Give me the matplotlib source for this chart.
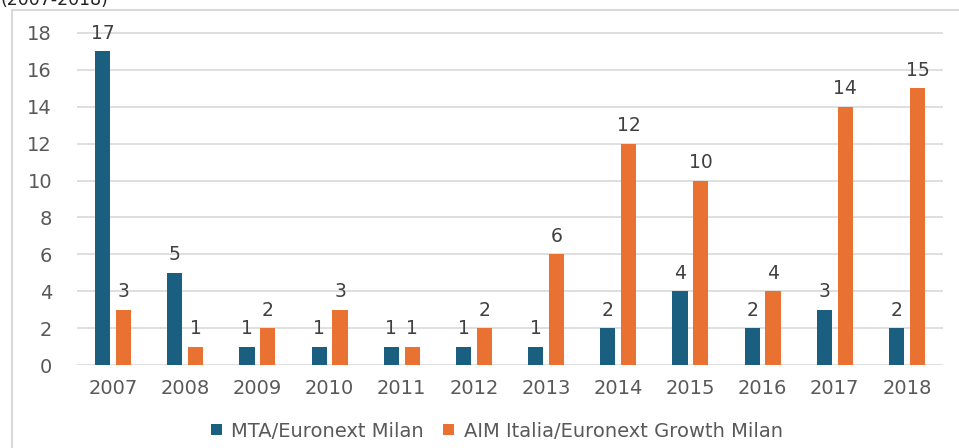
import numpy as np
import matplotlib
matplotlib.use("Agg")
from matplotlib import pyplot as plt
from matplotlib.patches import Rectangle

years = ['2007', '2008', '2009', '2010', '2011', '2012', '2013', '2014', '2015', '2016', '2017', '2018']
mta = [17, 5, 1, 1, 1, 1, 1, 2, 4, 2, 3, 2]
aim = [3, 1, 2, 3, 1, 2, 6, 12, 10, 4, 14, 15]
y_ticks = [0, 2, 4, 6, 8, 10, 12, 14, 16, 18]

blue = '#1b5f80'
orange = '#e97132'
grey = '#595959'

plt.rcParams['font.family'] = ['DejaVu Sans']

fig = plt.figure(figsize=(9.59, 4.48), dpi=100)
# bordo grigio del riquadro
fig.patches.append(Rectangle((12 / 959, -0.1), 1.2, 1 - 10 / 448 + 0.1, transform=fig.transFigure,
                             fill=False, edgecolor='#d9d9d9', linewidth=1.5))
fig.text(0.0, 1.0, '(2007-2018)', fontsize=12.5, color='#222222', va='center', ha='left')

ax = fig.add_axes([77 / 959, 1 - 365 / 448, (943 - 77) / 959, (365 - 33) / 448 / 18 * 18.4])

x = np.arange(len(years))
w = 0.21
b1 = ax.bar(x - 0.145, mta, w, color=blue, label='MTA/Euronext Milan', zorder=3)
b2 = ax.bar(x + 0.145, aim, w, color=orange, label='AIM Italia/Euronext Growth Milan', zorder=3)

for bars in (b1, b2):
    ax.bar_label(bars, padding=6, fontsize=13.5, color='#404040')

ax.set_xlim(-0.5, len(years) - 0.5)
ax.set_ylim(0, 18.4)
ax.set_yticks(y_ticks)
ax.set_xticks(x)
ax.set_xticklabels(years)
ax.grid(axis='y', color='#d9d9d9', linewidth=1.2, zorder=0)
for s in ax.spines.values():
    s.set_visible(False)
ax.tick_params(length=0, labelsize=14, colors=grey)
ax.tick_params(axis='y', pad=18)
ax.tick_params(axis='x', pad=10)

ax.legend(loc='center', bbox_to_anchor=(0.518, 17 / 448), bbox_transform=fig.transFigure,
          ncol=2, frameon=False, fontsize=14, labelcolor=grey, handlelength=0.55,
          handleheight=0.55, columnspacing=1.0, handletextpad=0.5)

plt.savefig('out.png', dpi=100)
